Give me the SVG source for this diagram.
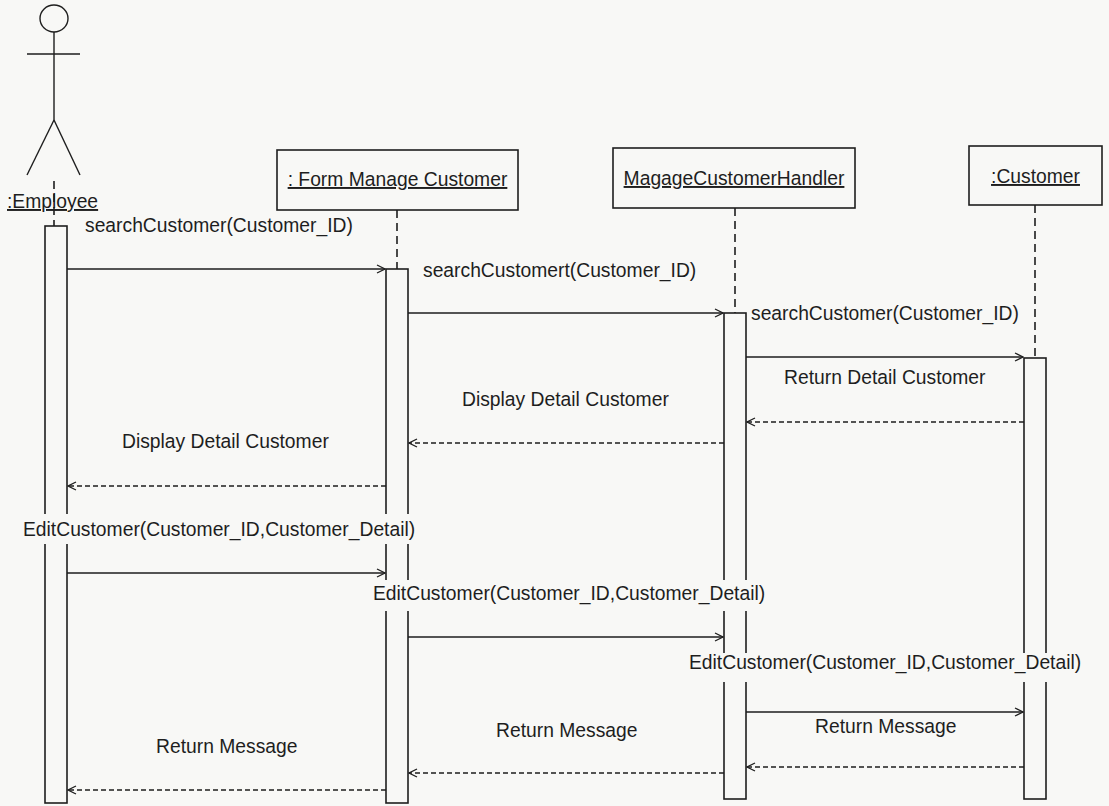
<svg xmlns="http://www.w3.org/2000/svg" width="1109" height="806" viewBox="0 0 1109 806">
<style>
.bg{fill:#f8f8f6}
.ln{stroke:#1e1e1e;stroke-width:1.4;fill:none}
.life{stroke:#1e1e1e;stroke-width:1.6;stroke-dasharray:8 5;fill:none}
.box{fill:#f8f8f6;stroke:#1e1e1e;stroke-width:1.6}
.act{fill:#f8f8f6;stroke:#1e1e1e;stroke-width:1.6}
.msg{stroke:#1e1e1e;stroke-width:1.3;fill:none;marker-end:url(#open)}
.ret{stroke:#1e1e1e;stroke-width:1.3;fill:none;stroke-dasharray:5 3;marker-end:url(#open)}
text{font-family:"Liberation Sans",Arial,sans-serif;font-size:19.3px;fill:#1e1e1e}
.u{text-decoration:underline}
.mid{text-anchor:middle}
.lbg{fill:#f8f8f6}
</style>
<defs>
<marker id="open" viewBox="0 0 10 10" refX="9" refY="5" markerWidth="10" markerHeight="10" markerUnits="userSpaceOnUse" orient="auto">
<path d="M1,1 L9,5 L1,9" fill="none" stroke="#1e1e1e" stroke-width="1.3"/>
</marker>
</defs>
<rect class="bg" x="0" y="0" width="1109" height="806"/>

<g id="employee">
<ellipse class="ln" cx="54" cy="18.5" rx="14" ry="13.5"/>
<line class="ln" x1="27" y1="54" x2="80" y2="54"/>
<line class="ln" x1="54" y1="32" x2="54" y2="120"/>
<line class="ln" x1="54" y1="120" x2="27" y2="175"/>
<line class="ln" x1="54" y1="120" x2="80" y2="175"/>
<text class="u" x="7" y="208">:Employee</text>
<line class="life" x1="54" y1="181" x2="54" y2="226"/>
<rect class="act" x="45" y="226" width="22" height="577"/>
</g>

<g id="form">
<rect class="box" x="277" y="150" width="241" height="60"/>
<text class="u mid" x="397.5" y="186">: Form Manage Customer</text>
<line class="life" x1="397" y1="210" x2="397" y2="269"/>
<rect class="act" x="386" y="269" width="22" height="534"/>
</g>

<g id="handler">
<rect class="box" x="613" y="148" width="242" height="60"/>
<text class="u mid" x="734" y="185">MagageCustomerHandler</text>
<line class="life" x1="735" y1="208" x2="735" y2="313"/>
<rect class="act" x="724" y="313" width="22" height="486"/>
</g>

<g id="customer">
<rect class="box" x="969" y="146" width="133" height="59"/>
<text class="u mid" x="1035.5" y="183">:Customer</text>
<line class="life" x1="1035" y1="205" x2="1035" y2="358"/>
<rect class="act" x="1024" y="358" width="22" height="441"/>
</g>

<g id="connectors">
<line class="msg" x1="67" y1="269" x2="385" y2="269"/>
<line class="msg" x1="408" y1="313" x2="723" y2="313"/>
<line class="msg" x1="746" y1="357" x2="1023" y2="357"/>
<line class="ret" x1="1024" y1="422" x2="747" y2="422"/>
<line class="ret" x1="724" y1="443" x2="409" y2="443"/>
<line class="ret" x1="386" y1="486" x2="68" y2="486"/>
<line class="msg" x1="67" y1="573" x2="385" y2="573"/>
<line class="msg" x1="408" y1="637" x2="723" y2="637"/>
<line class="msg" x1="746" y1="712" x2="1023" y2="712"/>
<line class="ret" x1="1024" y1="767" x2="747" y2="767"/>
<line class="ret" x1="724" y1="773" x2="409" y2="773"/>
<line class="ret" x1="386" y1="790" x2="68" y2="790"/>
</g>

<g id="labels">
<text x="85" y="232">searchCustomer(Customer_ID)</text>
<text x="423" y="277">searchCustomert(Customer_ID)</text>
<text x="751" y="320">searchCustomer(Customer_ID)</text>
<text x="784" y="384">Return Detail Customer</text>
<text x="462" y="406">Display Detail Customer</text>
<text x="122" y="448">Display Detail Customer</text>
<rect class="lbg" x="21" y="514" width="402" height="30"/>
<text x="23" y="536">EditCustomer(Customer_ID,Customer_Detail)</text>
<rect class="lbg" x="371" y="580" width="399" height="31"/>
<text x="373" y="600">EditCustomer(Customer_ID,Customer_Detail)</text>
<rect class="lbg" x="687" y="653" width="402" height="29"/>
<text x="689" y="669">EditCustomer(Customer_ID,Customer_Detail)</text>
<text x="815" y="733">Return Message</text>
<text x="496" y="737">Return Message</text>
<text x="156" y="753">Return Message</text>
</g>
</svg>
